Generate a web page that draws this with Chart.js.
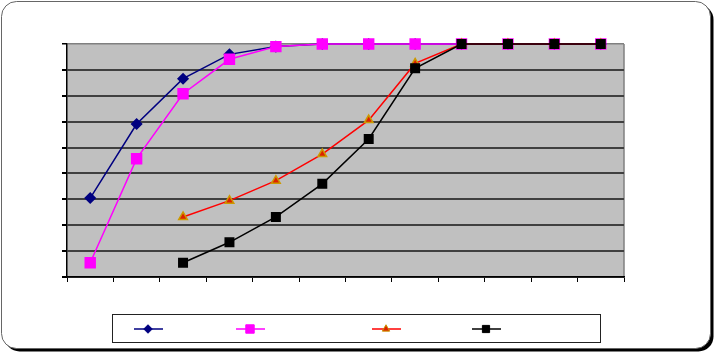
<!DOCTYPE html>
<html>
<head>
<meta charset="utf-8">
<script src="https://cdn.jsdelivr.net/npm/chart.js@4/dist/chart.umd.min.js"></script>
<style>
  body { margin: 0; background: #fff; }
  canvas { display: block; }
</style>
</head>
<body>
<canvas id="myChart" width="717" height="356"></canvas>
<script>
// values, 0..90 scale, 12 categories
let categories = ['1', '2', '3', '4', '5', '6', '7', '8', '9', '10', '11', '12']
let seriesBlue = [30.5, 59.1, 76.6, 86, 89, 90, 90, 90, 90, 90, 90, 90]
let seriesPink = [5.5, 45.7, 70.8, 84.1, 89, 90, 90, 90, 90, 90, 90, 90]
let seriesRed = [null, null, 23.2, 29.5, 37.2, 47.5, 60.6, 82.5, 90, 90, 90, 90]
let seriesBlack = [null, null, 5.5, 13.4, 23.2, 36, 53.3, 80.6, 90, 90, 90, 90]
let yTicks = [0, 10, 20, 30, 40, 50, 60, 70, 80, 90]

function roundRect(c, x, y, w, h, r) {
  c.beginPath()
  c.moveTo(x + r, y)
  c.lineTo(x + w - r, y)
  c.arcTo(x + w, y, x + w, y + r, r)
  c.lineTo(x + w, y + h - r)
  c.arcTo(x + w, y + h, x + w - r, y + h, r)
  c.lineTo(x + r, y + h)
  c.arcTo(x, y + h, x, y + h - r, r)
  c.lineTo(x, y + r)
  c.arcTo(x, y, x + r, y, r)
  c.closePath()
}

// frame + grey plot background
const backdrop = {
  id: 'backdrop',
  beforeDraw(chart) {
    const c = chart.ctx
    const a = chart.chartArea
    c.save()
    c.fillStyle = '#fff'
    c.fillRect(0, 0, chart.width, chart.height)
    roundRect(c, 4.5, 4.5, 709, 347, 15)
    c.fillStyle = '#000'
    c.fill()
    roundRect(c, 1.5, 1.5, 709, 347, 15)
    c.fillStyle = '#fff'
    c.fill()
    c.strokeStyle = '#666'
    c.lineWidth = 1
    c.stroke()
    c.fillStyle = '#c0c0c0'
    c.fillRect(a.left, a.top, a.right - a.left, a.bottom - a.top)
    c.strokeStyle = '#808080'
    c.lineWidth = 1.5
    c.beginPath()
    c.moveTo(a.right, a.top)
    c.lineTo(a.right, a.bottom)
    c.stroke()
    c.restore()
  }
}

// legend box with line samples only (no text in the original)
const legendBox = {
  id: 'legendBox',
  afterDraw(chart) {
    const c = chart.ctx
    const centers = [148, 250, 386, 486]
    const y = 329
    c.save()
    c.fillStyle = '#fff'
    c.fillRect(112.5, 314.5, 488, 28)
    c.strokeStyle = '#222'
    c.lineWidth = 1
    c.strokeRect(112.5, 314.5, 488, 28)
    chart.data.datasets.forEach((ds, i) => {
      const x = centers[i]
      c.strokeStyle = ds.borderColor
      c.lineWidth = ds.borderWidth
      c.beginPath()
      c.moveTo(x - 14, y)
      c.lineTo(x + 15, y)
      c.stroke()
      c.fillStyle = ds.pointBackgroundColor
      c.strokeStyle = ds.pointBorderColor
      c.lineWidth = 1
      Chart.helpers.drawPoint(c, {
        pointStyle: ds.pointStyle,
        radius: ds.pointRadius * 0.85,
        rotation: 0,
        borderWidth: 1
      }, x, y)
    })
    c.restore()
  }
}

var ctx = document.getElementById('myChart')
var myChart = new Chart(ctx, {
  type: 'line',
  data: {
    labels: categories,
    datasets: [{
      data: seriesBlue,
      borderColor: '#000080',
      borderWidth: 1.5,
      pointStyle: 'rectRot',
      pointRadius: 5,
      pointBackgroundColor: '#000080',
      pointBorderColor: '#000080',
      order: 4
    },
      {
        data: seriesPink,
        borderColor: '#ff00ff',
        borderWidth: 1.5,
        pointStyle: 'rect',
        pointRadius: 7,
        pointBackgroundColor: '#ff00ff',
        pointBorderColor: '#ff00ff',
        order: 3
      },
      {
        data: seriesRed,
        borderColor: '#ff0000',
        borderWidth: 1.5,
        pointStyle: 'triangle',
        pointRadius: 5,
        pointBackgroundColor: '#dd2200',
        pointBorderColor: '#cc9900',
        order: 2
      },
      {
        data: seriesBlack,
        borderColor: '#000000',
        borderWidth: 1.5,
        pointStyle: 'rect',
        pointRadius: 6,
        pointBackgroundColor: '#000000',
        pointBorderColor: '#000000',
        order: 1
      }
    ]
  },
  options: {
    responsive: false,
    animation: false,
    clip: false,
    layout: { padding: { left: 62, top: 44, right: 93, bottom: 74 } },
    plugins: {
      legend: { display: false },
      tooltip: { enabled: false }
    },
    scales: {
      x: {
        offset: true,
        ticks: { display: false },
        grid: { offset: true, drawOnChartArea: false, drawTicks: true, tickLength: 5, tickColor: '#000' },
        border: { color: '#000', width: 1.5 }
      },
      y: {
        min: 0,
        max: 90,
        afterBuildTicks(scale) { scale.ticks = yTicks.map(v => ({ value: v })) },
        ticks: { display: false },
        grid: {
          color: c => c.tick && c.tick.value === 90 ? '#808080' : '#404040',
          lineWidth: c => c.tick && c.tick.value === 90 ? 1.5 : 2,
          drawTicks: true,
          tickLength: 5,
          tickColor: '#000'
        },
        border: { color: '#000', width: 1.5 }
      }
    }
  },
  plugins: [backdrop, legendBox]
})
</script>
</body>
</html>
